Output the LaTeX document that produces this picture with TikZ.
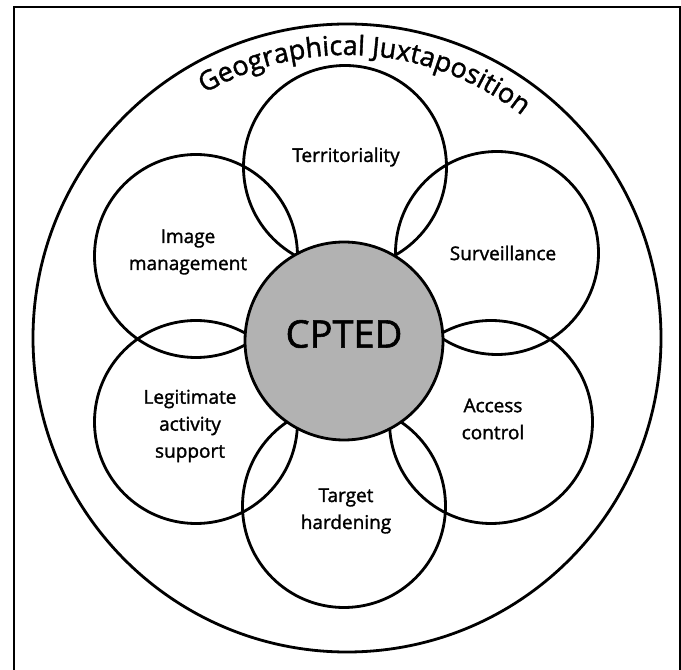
\documentclass[tikz,border=0pt]{standalone}
\usepackage{fontspec}
\setmainfont{Open Sans}[UprightFeatures={FakeBold=1.5}]
\usetikzlibrary{decorations.text}
\tikzset{part circle/.style={circle, draw=black, line width=2.8pt, minimum size=203pt, inner sep=0pt},
core circle/.style={circle, draw=black, line width=2.8pt, fill=black!30, minimum size=198pt, inner sep=0pt},
%labels inside the six circles
part label/.style={align=center, font=\fontsize{19}{27}\selectfont}}

\begin{document}
\begin{tikzpicture}[x=1pt,y=1pt]

\useasboundingbox (0,0) rectangle (681,670);
\fill[white] (0,0) rectangle (681,670);

%DRAWING frame and outer ring

 \draw[line width=2pt] (14,0)--(14,663)--(680,663)--(680,0);

 \node[circle, draw=black, line width=2.8pt, minimum size=628pt, inner sep=0pt] (Ring) at (347,332) {};
 \path[decorate, decoration={text along path, text align=center,
   text={|\fontsize{27}{30}\selectfont|Geographical Juxtaposition}}]
   (Ring.center) ++(146:283pt) arc[start angle=146, end angle=26, radius=283pt];

%Inserting the six circles and the core

 \foreach \name/\x/\y in {Terr/345/503, Surv/497/417, Access/491/248, Target/344/164, Legit/196/248, Image/196/414}
 {\node[part circle] (\name Circle) at (\x,\y) {};}

 \node[core circle] (Core) at (344,329) {};
 \node[font=\fontsize{38}{40}\selectfont] (CoreLabel) at (344,336) {CPTED};

 \node[part label] (TerrLabel) at (346,513) {Territoriality};
 \node[part label] (SurvLabel) at (503,417) {Surveillance};
 \node[part label] (AccessLabel) at (493,251) {Access\\control};
 \node[part label] (TargetLabel) at (346,159) {Target\\hardening};
 \node[part label] (LegitLabel) at (190,244) {Legitimate\\activity\\support};
 \node[part label] (ImageLabel) at (188,418) {Image\\management};

\end{tikzpicture}
\end{document}
